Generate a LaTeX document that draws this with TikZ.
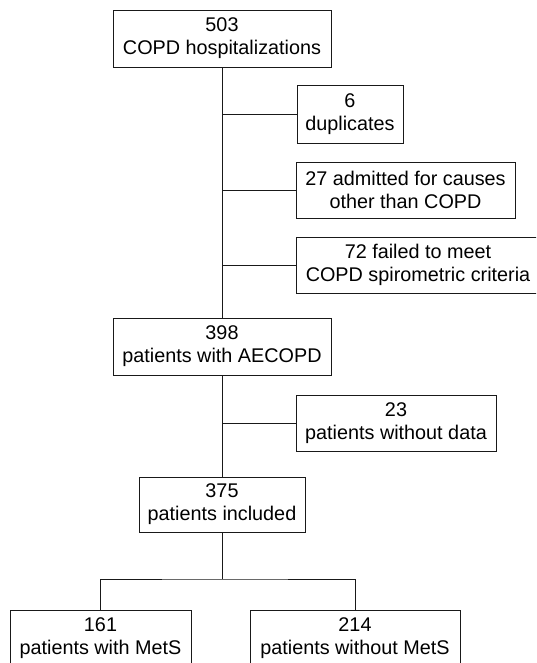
\documentclass[tikz,border=0pt]{standalone}
\usepackage{fontspec}
\setmainfont{Liberation Sans}
\begin{document}
\begin{tikzpicture}[x=1pt,y=-1pt,
  box/.style={draw=black!90, line width=0.9pt, align=center, inner sep=0pt,
    font=\fontsize{19.8}{23}\selectfont, minimum height=#1},
  box/.default=57,
  link/.style={draw=black!90, line width=0.9pt}]
\useasboundingbox (0,0) rectangle (536,663);
\clip (0,0) rectangle (536,663);
\node[box, minimum width=218] (A) at (222,38.5) {503\\COPD hospitalizations};
\node[box=58, minimum width=106] (B) at (350,114) {6\\duplicates};
\node[box=56, minimum width=219] (C) at (405.5,190) {27 admitted for causes\\other than COPD};
\node[box=56, minimum width=244] (D) at (418,265) {72 failed to meet\\COPD spirometric criteria};
\node[box, minimum width=218] (E) at (222,346.5) {398\\patients with AECOPD};
\node[box=56, minimum width=200] (F) at (396,423) {23\\patients without data};
\node[box=55, minimum width=166] (G) at (222,504.5) {375\\patients included};
\node[box=57, minimum width=181] (H) at (100.5,638.5) {161\\patients with MetS};
\node[box=57, minimum width=210] (I) at (355,638.5) {214\\patients without MetS};
\coordinate (s) at (222,579);
\path[link] (A.south) -- (E.north);
\path[link] (A.south |- B.west) -- (B.west);
\path[link] (A.south |- C.west) -- (C.west);
\path[link] (A.south |- D.west) -- (D.west);
\path[link] (E.south) -- (G.north);
\path[link] (E.south |- F.west) -- (F.west);
\path[link] (G.south) -- (s);
\path[link] (H.north) |- (s) -| (I.north);
\end{tikzpicture}
\end{document}
